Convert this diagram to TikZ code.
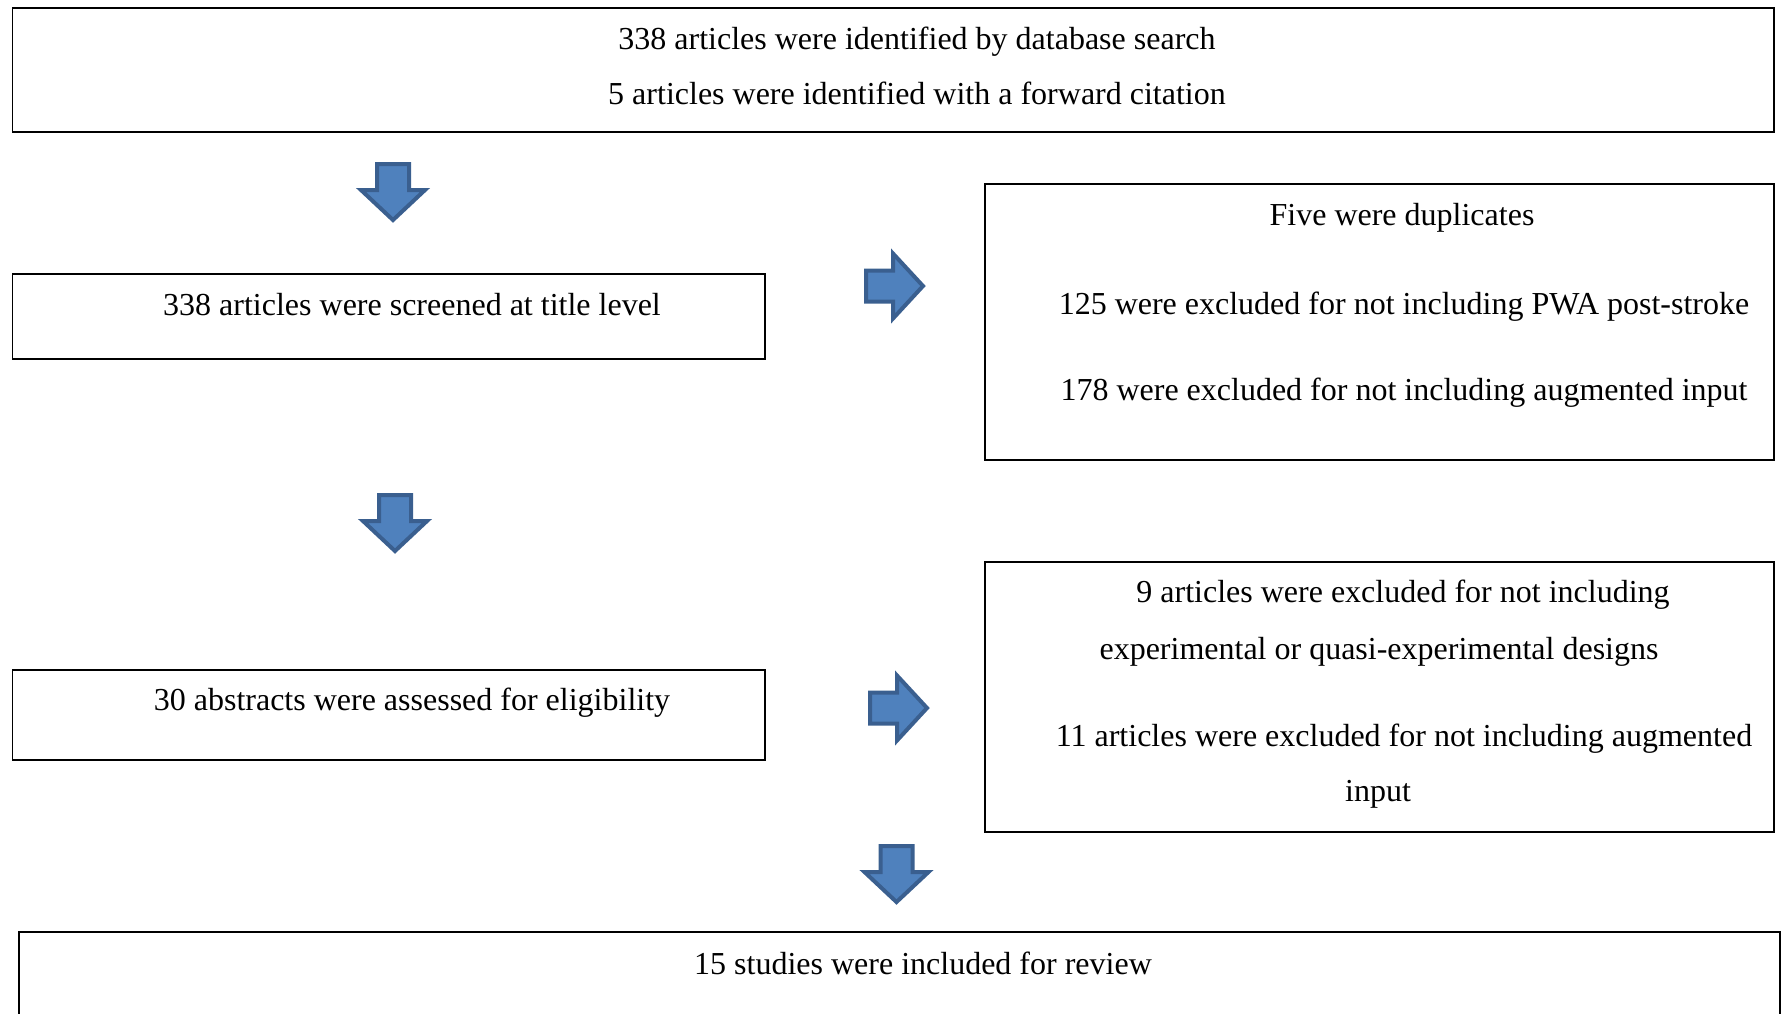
\documentclass[tikz,border=0pt]{standalone}
\usepackage{fontspec}
\setmainfont{Liberation Serif}
\definecolor{arrfill}{HTML}{4F81BD}
\definecolor{arrdraw}{HTML}{3A5F8F}
\begin{document}
\begin{tikzpicture}[x=1pt,y=-1pt,
  box/.style={draw=black, line width=1.6pt},
  txt/.style={font=\fontsize{32}{38}\selectfont, inner sep=0pt, anchor=base},
  blockarrow/.style={fill=arrfill, draw=arrdraw, line width=4pt, line join=miter}]
\useasboundingbox (0,0) rectangle (1783,1013);
% boxes
\draw[box] (12.5,8) rectangle (1774,132);
\node[txt] (t1a) at (917,49) {338 articles were identified by database search};
\node[txt] (t1b) at (917,104.5) {5 articles were identified with a forward citation};

\draw[box] (12.5,274) rectangle (765,359);
\node[txt] (t2) at (412,315.5) {338 articles were screened at title level};

\draw[box] (985,184) rectangle (1774,460);
\node[txt] (t3a) at (1402,225.5) {Five were duplicates};
\node[txt] (t3b) at (1404,314) {125 were excluded for not including PWA post-stroke};
\node[txt] (t3c) at (1404,400.5) {178 were excluded for not including augmented input};

\draw[box] (12.5,670) rectangle (765,760);
\node[txt] (t4) at (412,710.5) {30 abstracts were assessed for eligibility};

\draw[box] (985,562) rectangle (1774,832);
\node[txt] (t5a) at (1403,602.5) {9 articles were excluded for not including};
\node[txt] (t5b) at (1379,659.5) {experimental or quasi-experimental designs};
\node[txt] (t5c) at (1404,746) {11 articles were excluded for not including augmented};
\node[txt] (t5d) at (1378,801.5) {input};

\draw[box] (19,1020) -- (19,932) -- (1780,932) -- (1780,1020);
\node[txt] (t6) at (923,974.5) {15 studies were included for review};

% block arrows
\coordinate (d1) at (393,164);
\coordinate (d2) at (395,495);
\coordinate (d3) at (896.5,846);
\foreach \c in {d1,d2,d3}{
  \draw[blockarrow] (\c) ++(-16,0) -- ++(32,0) -- ++(0,26) -- ++(16,0)
     -- ++(-32,30) -- ++(-32,-30) -- ++(16,0) -- cycle;
}
\coordinate (r1) at (866,286);
\coordinate (r2) at (870,708);
\foreach \c in {r1,r2}{
  \draw[blockarrow] (\c) ++(0,-15.5) -- ++(27,0) -- ++(0,-17) -- ++(30,32.5)
     -- ++(-30,32.5) -- ++(0,-17) -- ++(-27,0) -- cycle;
}
\end{tikzpicture}
\end{document}
